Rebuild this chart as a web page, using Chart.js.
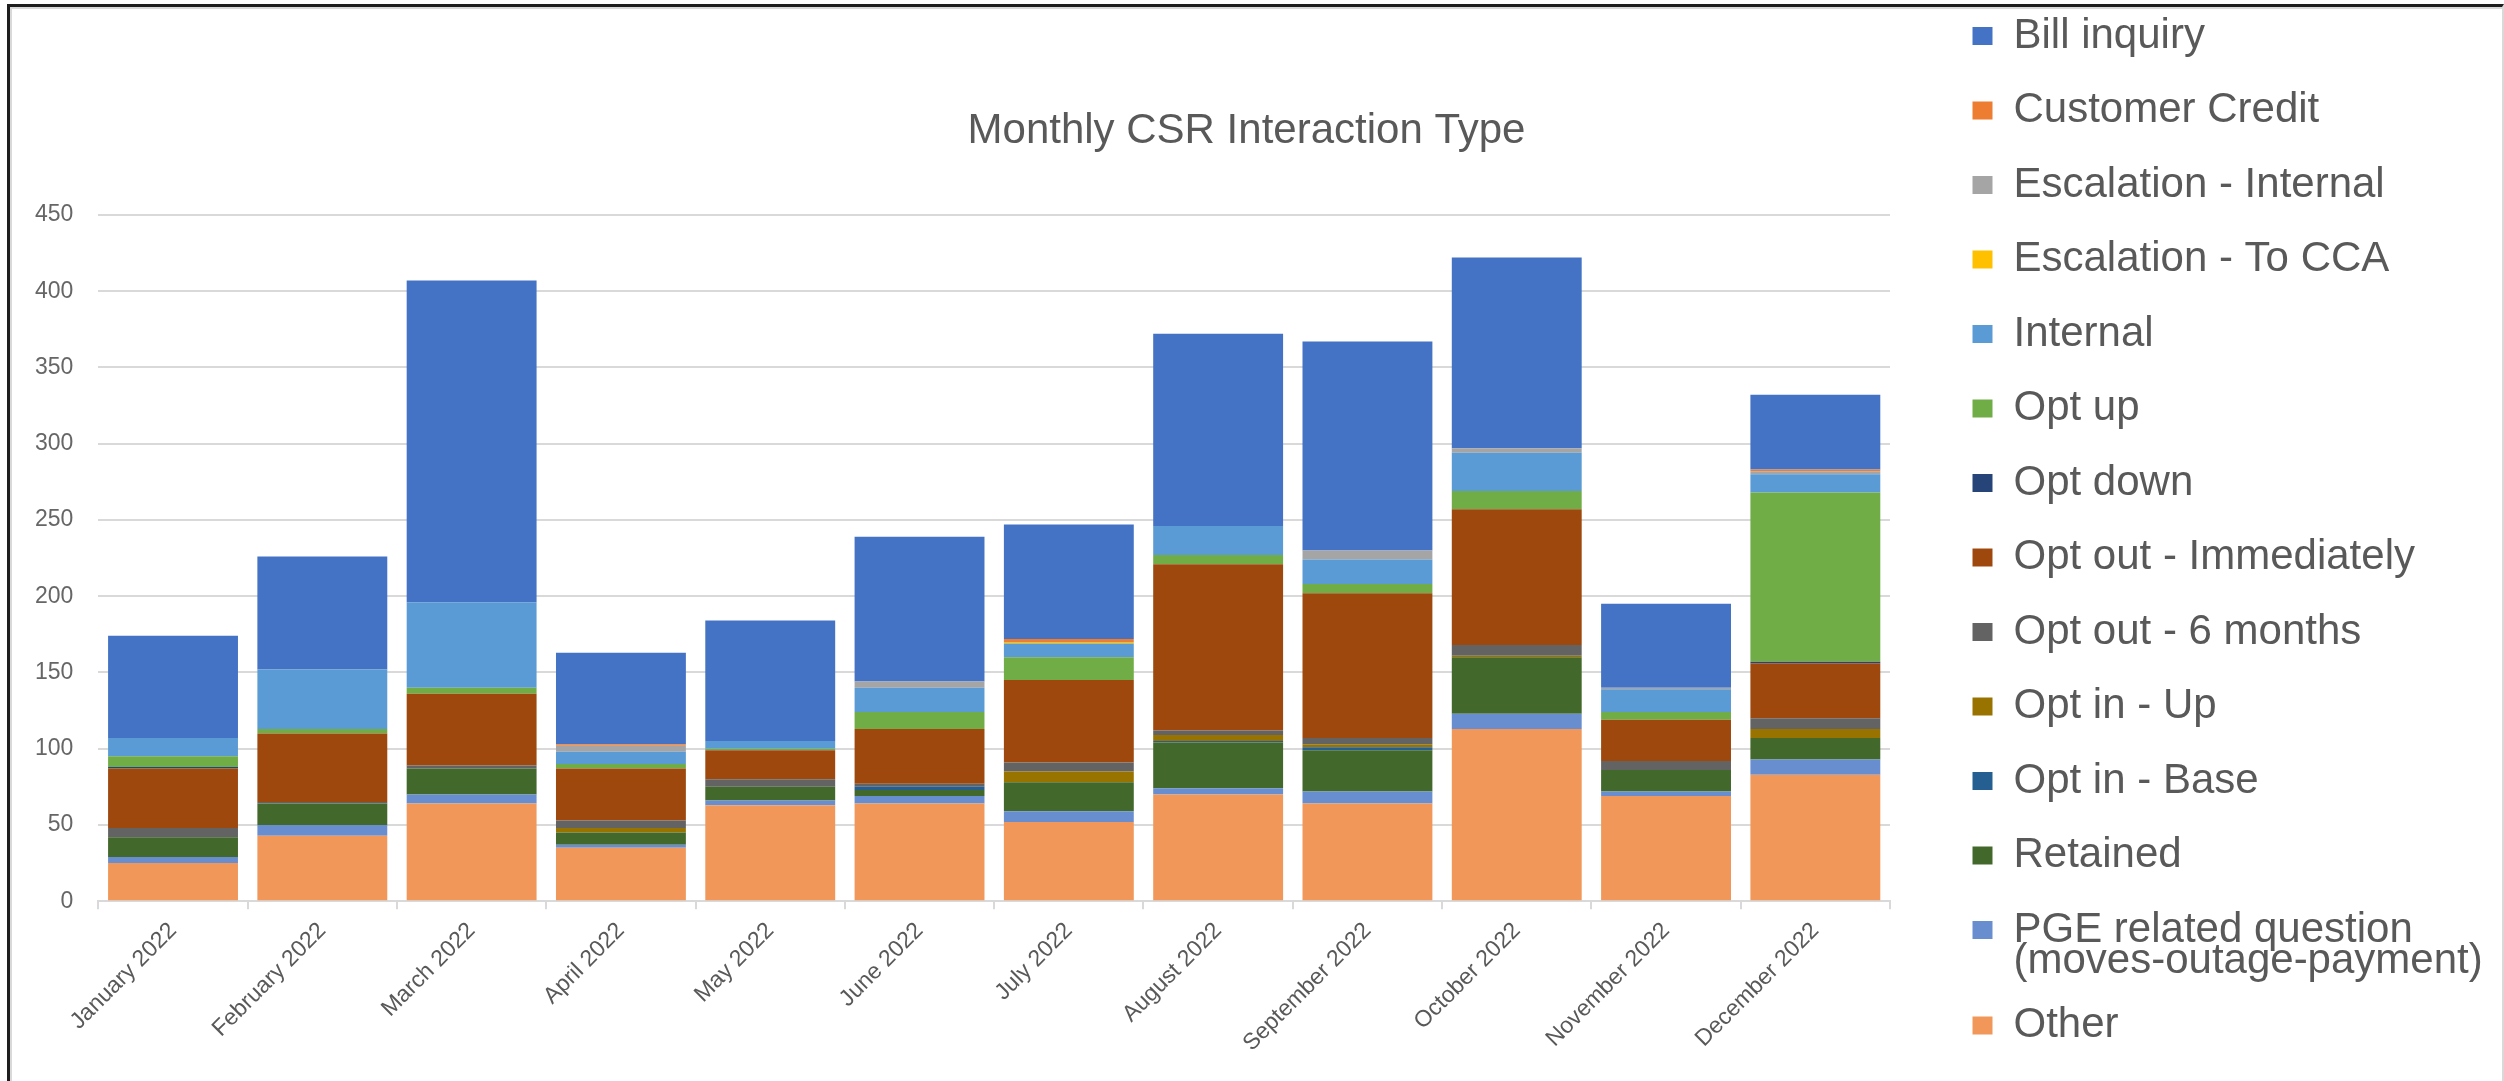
<!DOCTYPE html>
<html>
<head>
    <title>Monthly CSR Interaction Type</title>
    <style>
        body {
            margin: 0;
            background: #fff;
        }
        .chartBox {
            position: relative;
            width: 2504px;
            height: 1081px;
            overflow: hidden;
        }
        .frame {
            position: absolute;
            left: 7px;
            top: 4px;
            right: 0;
            bottom: -10px;
            border-top: 3px solid #1e1e1e;
            border-left: 3px solid #1e1e1e;
            border-right: 2px solid #d9d9d9;
            box-shadow: inset 2px 2px 0 #d9d9d9;
            pointer-events: none;
        }
    </style>
    <script src="https://cdn.jsdelivr.net/npm/chart.js"></script>
</head>
<body>
    <div class="chartBox">
        <canvas id="chart" width="2504" height="1081"></canvas>
        <div class="frame"></div>
    </div>

    <script>
        const months = ['January 2022', 'February 2022', 'March 2022', 'April 2022', 'May 2022', 'June 2022',
                        'July 2022', 'August 2022', 'September 2022', 'October 2022', 'November 2022', 'December 2022'];

        // stacked bottom to top
        const other          = [25, 43, 64, 35, 63, 64, 52, 70, 64, 113, 69, 83];
        const pgeQuestion    = [4, 7, 6, 2, 3, 5, 7, 4, 8, 10, 3, 10];
        const retained       = [13, 14, 17, 8, 9, 4, 19, 30, 27, 37, 14, 14];
        const optInBase      = [0, 0, 0, 0, 0, 2, 0, 1, 2, 0, 0, 0];
        const optInUp        = [0, 0, 0, 3, 0, 0, 7, 4, 2, 1, 0, 6];
        const optOut6Months  = [6, 1, 2, 5, 5, 2, 6, 3, 4, 7, 6, 7];
        const optOutNow      = [39, 45, 47, 34, 19, 36, 54, 109, 95, 89, 27, 36];
        const optDown        = [1, 0, 0, 0, 0, 0, 0, 0, 0, 0, 0, 1];
        const optUp          = [7, 3, 4, 3, 1, 11, 15, 6, 6, 12, 5, 111];
        const internal       = [12, 39, 56, 8, 5, 16, 9, 19, 16, 25, 15, 12];
        const escalationCCA  = [0, 0, 0, 0, 0, 0, 1, 0, 0, 0, 0, 0];
        const escalationInt  = [0, 0, 0, 4, 0, 4, 0, 0, 6, 3, 1, 2];
        const customerCredit = [0, 0, 0, 1, 0, 0, 2, 0, 0, 0, 0, 1];
        const billInquiry    = [67, 74, 211, 60, 79, 95, 75, 126, 137, 125, 55, 49];

        const yTicks = [0, 50, 100, 150, 200, 250, 300, 350, 400, 450];

        const font = 'Liberation Sans, Arial, sans-serif';

        const series = [
            ['Other', other, '#F1975A'],
            ['PGE related question (moves-outage-payment)', pgeQuestion, '#698ED0'],
            ['Retained', retained, '#43682B'],
            ['Opt in - Base', optInBase, '#255E91'],
            ['Opt in - Up', optInUp, '#997300'],
            ['Opt out - 6 months', optOut6Months, '#636363'],
            ['Opt out - Immediately', optOutNow, '#9E480E'],
            ['Opt down', optDown, '#264478'],
            ['Opt up', optUp, '#70AD47'],
            ['Internal', internal, '#5B9BD5'],
            ['Escalation - To CCA', escalationCCA, '#FFC000'],
            ['Escalation - Internal', escalationInt, '#A5A5A5'],
            ['Customer Credit', customerCredit, '#ED7D31'],
            ['Bill inquiry', billInquiry, '#4472C4']
        ];

        const datasets = series.map(s => ({
            label: s[0],
            data: s[1],
            backgroundColor: s[2],
            borderWidth: 0,
            yAxisID: 'y',
            barPercentage: 0.87,
            categoryPercentage: 1.0
        }));

        const ctx = document.getElementById('chart').getContext('2d');

        new Chart(ctx, {
            type: 'bar',
            data: {
                labels: months,
                datasets: datasets
            },
            options: {
                responsive: false,
                animation: false,
                layout: {
                    padding: { top: -17.5, left: 10, right: 21, bottom: 0 }
                },
                plugins: {
                    title: {
                        display: true,
                        text: 'Monthly CSR Interaction Type',
                        color: '#595959',
                        font: { family: font, size: 42, weight: 'normal' },
                        padding: { top: 124, bottom: 58 }
                    },
                    legend: {
                        position: 'right',
                        align: 'start',
                        reverse: true,
                        maxWidth: 543,
                        labels: {
                            boxWidth: 20,
                            boxHeight: 18,
                            padding: 32.5,
                            color: '#595959',
                            font: { family: font, size: 42, lineHeight: 0.75 },
                            generateLabels(chart) {
                                const items = Chart.defaults.plugins.legend.labels.generateLabels(chart);
                                items.forEach(item => {
                                    // the long one wraps onto a second line
                                    if (item.text.startsWith('PGE')) {
                                        item.text = ['PGE related question', '(moves-outage-payment)'];
                                    }
                                });
                                return items;
                            }
                        }
                    },
                    tooltip: { enabled: false }
                },
                scales: {
                    x: {
                        stacked: true,
                        grid: {
                            drawOnChartArea: false,
                            drawTicks: true,
                            tickLength: 8,
                            color: '#d9d9d9',
                            lineWidth: 2
                        },
                        border: { color: '#d9d9d9', width: 2 },
                        ticks: {
                            autoSkip: false,
                            minRotation: 45,
                            maxRotation: 45,
                            padding: 8,
                            color: '#595959',
                            font: { family: font, size: 23 }
                        },
                        afterFit(scale) {
                            // let the first rotated label hang out to the left
                            scale.paddingLeft = 0;
                            scale.paddingRight = 0;
                            // leave some white below the labels
                            scale.height += 16;
                        }
                    },
                    y: {
                        stacked: true,
                        min: 0,
                        max: 450,
                        afterBuildTicks(scale) {
                            scale.ticks = yTicks.map(v => ({ value: v }));
                        },
                        grid: { color: '#d9d9d9', lineWidth: 2, drawTicks: false },
                        border: { display: false },
                        ticks: {
                            padding: 25,
                            color: '#666666',
                            font: { family: font, size: 23 }
                        }
                    },
                    // empty right axis, only keeps the gap between plot and legend
                    gap: {
                        type: 'linear',
                        position: 'right',
                        grid: { display: false },
                        border: { display: false },
                        ticks: { display: false },
                        afterFit(scale) {
                            scale.width = 50;
                        }
                    }
                }
            }
        });
    </script>
</body>
</html>
